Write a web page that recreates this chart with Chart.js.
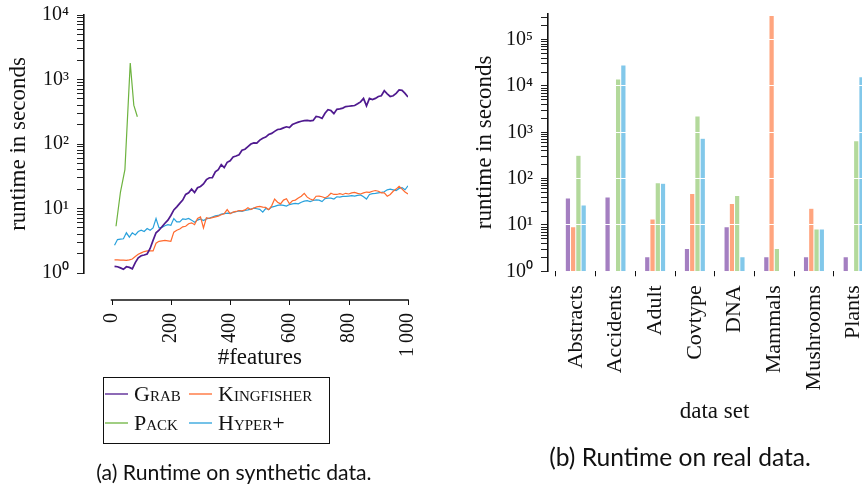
<!DOCTYPE html>
<html><head><meta charset="utf-8">
<script src="https://cdn.jsdelivr.net/npm/chart.js@4"></script>
<style>
html,body{margin:0;padding:0;width:862px;height:485px;overflow:hidden;background:#fff;}
#wrap{position:relative;width:862px;height:485px;overflow:hidden;}
.box{position:absolute;top:0;height:485px;}
.cap{position:absolute;font-family:Lato,"Open Sans",sans-serif;color:#111;white-space:nowrap;transform:translate(-50%,-50%);line-height:1;}
</style></head><body>
<div id="wrap">
<div class="box" style="left:0;width:428px"><canvas id="synth"></canvas></div>
<div class="box" style="left:440px;width:461px"><canvas id="real"></canvas></div>
<div class="cap" id="capA" style="left:234px;top:473px;font-size:21.2px"></div>
<div class="cap" id="capB" style="left:680px;top:457px;font-size:24.6px"></div>
</div>
<script>
// ---------- data: synthetic (left) ----------
const featureCounts = [10,20,30,40,50,60,70,80,90,100,110,120,130,140,150,160,170,180,190,200,210,220,230,240,250,260,270,280,290,300,310,320,330,340,350,360,370,380,390,400,410,420,430,440,450,460,470,480,490,500,510,520,530,540,550,560,570,580,590,600,610,620,630,640,650,660,670,680,690,700,710,720,730,740,750,760,770,780,790,800,810,820,830,840,850,860,870,880,890,900,910,920,930,940,950,960,970,980,990,1000];
const grabRuntime = [1.27,1.25,1.2,1.14,1.25,1.22,1.16,1.45,1.72,1.85,1.9,1.97,2.4,3.2,4.2,4.6,5.2,5.9,6.6,7.8,9.5,10.6,12,13.5,16.5,17.5,20,17.7,21,22,24,28,30,30,37,40,48,43,52,55,63,65,68,80,83,91,100,104,103,115,123,128,140,146,157,168,170,178,185,180,200,210,218,225,230,232,228,232,268,262,250,300,340,330,295,345,350,360,380,385,390,395,420,450,510,390,510,490,510,545,560,670,600,545,560,610,690,680,610,535];
const kingfisherRuntime = [1.6,1.6,1.58,1.58,1.57,1.6,1.65,1.8,1.95,2.05,2.15,2.2,2.2,2.2,2.9,3.1,3.15,3.2,3.15,3.1,4.3,4.6,4.8,5.2,5.3,5.8,6.0,5.6,7.0,7.4,5.0,7.2,7.0,7.2,7.4,7.6,8.0,8.3,9.6,8.3,8.8,9.0,9.3,9.2,9.5,10.3,9.6,10.2,10.6,10.8,10.5,10.4,9.6,11,14,12.5,11.8,13.5,14.2,11.8,13.2,13.5,14.5,15.5,17.2,15,14,13.5,15.5,15.6,15.2,14.6,15.5,17.2,16.5,16.5,17,16.5,17.2,16.8,17.5,17.8,17.2,16.8,17.5,18,17.8,18.5,19,18.5,17.5,17.5,15.5,16.5,18.5,20,22,20,18,16.8];
const hyperRuntime = [2.7,3.3,3.35,3.4,4.2,3.6,4.2,3.9,4.4,4.6,4.4,4.9,4.6,5.0,7.0,5.0,5.1,5.4,5.6,5.5,7.0,6.2,6.2,6.9,6.8,7.0,6.6,6.1,6.6,6.9,6.5,6.9,7.1,7.4,7.7,7.8,8.2,8.3,8.5,8.4,8.7,8.9,9.2,9.0,9.3,9.5,9.8,10.1,9.9,9.7,8.8,10.0,9.6,10.5,10.8,11.2,11.4,11.2,10.9,11.5,11.8,12.0,11.8,12.5,13.0,13.2,12.8,13.3,13.6,13.5,12.8,14.2,14.5,14.5,14.0,15.2,15.0,15.4,15.4,15.6,15.8,15.6,16.0,16.2,15.2,14.0,16.5,17.0,17.2,17.5,17.8,18.2,19.5,20,19.5,19,20.5,21,19.5,22.5];
const packFeatureCounts = [15,30,45,63,75,87];
const packRuntime = [5.3,18,40,1800,400,265];
const synthXTicks = [0,200,400,600,800,1000];
const synthXTickLabels = ['0','200','400','600','800','1\u2009000'];

// ---------- data: real (right) ----------
const dataSets = ['Abstracts','Accidents','Adult','Covtype','DNA','Mammals','Mushrooms','Plants'];
const grabReal       = [38, 40, 2.07, 3.1, 9.2, 2.07, 2.07, 2.07];
const kingfisherReal = [9.2, null, 13.5, 48, 29, 330000, 22.9, null];
const packReal       = [319, 14200, 81, 2250, 43, 3.1, 8.2, 661];
const hyperReal      = [27, 28400, 79, 743, 2.07, null, 8.2, 15900];

// ---------- ticks / text ----------
const logTickLabels = {1:'10\u2070',10:'10\u00B9',100:'10\u00B2',1000:'10\u00B3',10000:'10\u2074',100000:'10\u2075'};
const minorSteps = [1,2,3,4,5,6,7,8,9];
const seriesNames = ['Grab','Kingfisher','Pack','Hyper+'];
const lineColors = ['#4f1a8f','#ff6a2e','#6db33f','#29a1dc'];
const barColors  = ['#a47fc1','#ffa57f','#b3d99b','#82c8ea'];
const yTitle = 'runtime in seconds';
const synthXTitle = '#features';
const realXTitle = 'data set';
document.getElementById('capA').textContent = '(a) Runtime on synthetic data.';
document.getElementById('capB').textContent = '(b) Runtime on real data.';

const SERIF = '"Liberation Serif", "Times New Roman", serif';
Chart.defaults.font.family = SERIF;
Chart.defaults.color = '#111';
Chart.defaults.animation = false;

function logTicks(maxValue){
  const out = [];
  for (let p = 1; p <= maxValue; p *= 10) for (const m of minorSteps) { const v = m*p; if (v <= maxValue) out.push(v); }
  return out;
}
function noPad(s){ s.paddingLeft = 0; s.paddingRight = 0; s.paddingTop = 0; s.paddingBottom = 0; }

const synthDecor = {
  id: 'synthDecor',
  afterDraw(chart){
    const {ctx, chartArea, scales:{x}} = chart;
    const y0 = chartArea.bottom + 27;
    const x0 = x.getPixelForValue(synthXTicks[0]);
    const x1 = x.getPixelForValue(synthXTicks[synthXTicks.length-1]);
    ctx.save();
    ctx.strokeStyle = '#111';
    ctx.lineWidth = 1.6;
    ctx.beginPath(); ctx.moveTo(x0-0.8, y0); ctx.lineTo(x1+0.8, y0); ctx.stroke();
    ctx.lineWidth = 1;
    synthXTicks.forEach(v => { const px = Math.round(x.getPixelForValue(v)) + 0.5; ctx.beginPath(); ctx.moveTo(px, y0); ctx.lineTo(px, y0+5); ctx.stroke(); });
    ctx.fillStyle = '#111';
    ctx.font = '23px ' + SERIF;
    ctx.textAlign = 'center'; ctx.textBaseline = 'middle';
    ctx.fillText(synthXTitle, (x0+x1)/2, 358);
    // legend box
    const bx = 103, by = 377, bw = 226, bh = 66;
    ctx.lineWidth = 1;
    ctx.strokeRect(bx+0.5, by+0.5, bw, bh);
    const cols = [bx+2, bx+86], rows = [by+17, by+46];
    ctx.font = 'small-caps 22px ' + SERIF;
    try { ctx.fontVariantCaps = 'small-caps'; } catch(e) {}
    ctx.textAlign = 'left';
    chart.data.datasets.forEach((ds, i) => {
      const cx = cols[i % 2], cy = rows[Math.floor(i/2)];
      ctx.strokeStyle = ds.borderColor; ctx.lineWidth = 1.3;
      ctx.beginPath(); ctx.moveTo(cx, cy); ctx.lineTo(cx+23, cy); ctx.stroke();
      ctx.fillStyle = '#111';
      ctx.fillText(ds.label, cx+29, cy+1);
    });
    ctx.restore();
  }
};

new Chart(document.getElementById('synth'), {
  type: 'line',
  data: { datasets: [
    {label: seriesNames[0], data: featureCounts.map((x,i)=>({x, y: grabRuntime[i]})), borderColor: lineColors[0], borderWidth: 1.7},
    {label: seriesNames[1], data: featureCounts.map((x,i)=>({x, y: kingfisherRuntime[i]})), borderColor: lineColors[1], borderWidth: 1.2},
    {label: seriesNames[2], data: packFeatureCounts.map((x,i)=>({x, y: packRuntime[i]})), borderColor: lineColors[2], borderWidth: 1.2},
    {label: seriesNames[3], data: featureCounts.map((x,i)=>({x, y: hyperRuntime[i]})), borderColor: lineColors[3], borderWidth: 1.2}
  ]},
  options: {
    responsive: true, maintainAspectRatio: false, devicePixelRatio: 1, events: [],
    layout: {padding: {left: 0, top: 15, right: 20, bottom: 0}},
    elements: {point: {radius: 0, hoverRadius: 0}, line: {tension: 0, fill: false}},
    plugins: {legend: {display: false}, tooltip: {enabled: false}},
    scales: {
      x: {
        type: 'linear', min: -93, max: 1000,
        afterBuildTicks: s => { s.ticks = synthXTicks.map(v => ({value: v})); },
        afterFit: s => { s.height = 212; noPad(s); },
        grid: {display: false, drawTicks: false},
        border: {display: false},
        ticks: {autoSkip: false, minRotation: 90, maxRotation: 90, padding: 40, font: {size: 20}, color: '#111',
                callback: (v, i) => synthXTickLabels[i]}
      },
      y: {
        type: 'logarithmic', min: 1, max: 10000,
        afterBuildTicks: s => { s.ticks = logTicks(10000).map(v => ({value: v})); },
        afterFit: s => { s.width = 84; noPad(s); },
        grid: {drawOnChartArea: false, tickLength: 7, color: '#222', lineWidth: 1},
        border: {display: true, color: '#111', width: 1.6},
        ticks: {autoSkip: false, padding: 8, font: {size: 20}, color: '#111', callback: v => logTickLabels[v] ?? ''},
        title: {display: true, text: yTitle, font: {size: 23}, color: '#111', padding: {top: 5, bottom: 0}}
      }
    }
  },
  plugins: [synthDecor]
});

const realSeries = [grabReal, kingfisherReal, packReal, hyperReal];
new Chart(document.getElementById('real'), {
  type: 'bar',
  data: { datasets: realSeries.map((vals, k) => ({
    label: seriesNames[k],
    data: dataSets.map((n, i) => ({x: i, y: vals[i]})),
    backgroundColor: barColors[k],
    borderColor: '#ffffff', borderWidth: 0.5,
    categoryPercentage: 0.53, barPercentage: 1
  }))},
  options: {
    responsive: true, maintainAspectRatio: false, devicePixelRatio: 1, events: [],
    layout: {padding: {left: 0, top: 13.3, right: 20, bottom: 0}},
    plugins: {legend: {display: false}, tooltip: {enabled: false}},
    scales: {
      x: {
        type: 'linear', min: -0.7, max: 7.69, offset: false,
        afterBuildTicks: s => { s.ticks = dataSets.map((n, i) => ({value: i})); },
        afterFit: s => { s.height = 485 - 271.3; noPad(s); },
        grid: {display: true, drawOnChartArea: false, tickLength: 5, color: '#111', lineWidth: 1},
        border: {display: false},
        ticks: {autoSkip: false, minRotation: 90, maxRotation: 90, padding: 9, font: {size: 22}, color: '#111',
                callback: (v, i) => dataSets[i]},
        title: {display: true, text: realXTitle, font: {size: 23}, color: '#111', padding: {top: 0, bottom: 59}}
      },
      y: {
        type: 'logarithmic', min: 1, max: 370000,
        afterBuildTicks: s => { s.ticks = logTicks(370000).map(v => ({value: v})); },
        afterFit: s => { s.width = 108; noPad(s); },
        grid: {drawOnChartArea: true, z: 1, tickLength: 7, lineWidth: 1, tickColor: '#222', tickWidth: 1,
               color: c => (c.tick && c.tick.value > 1 && logTickLabels[c.tick.value]) ? '#ffffff' : 'rgba(0,0,0,0)'},
        border: {display: true, color: '#111', width: 1.6, z: 2},
        ticks: {autoSkip: false, padding: 8, font: {size: 20}, color: '#111', callback: v => logTickLabels[v] ?? ''},
        title: {display: true, text: yTitle, font: {size: 23}, color: '#111', padding: {top: 31, bottom: 0}}
      }
    }
  }
});
</script>
</body></html>
